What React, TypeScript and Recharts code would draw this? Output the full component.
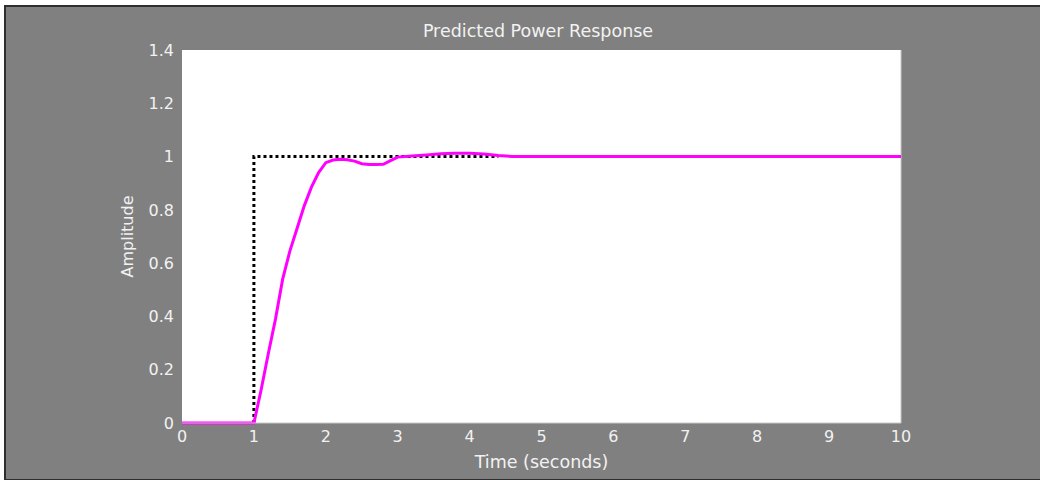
import React from "react";
import { LineChart, Line, XAxis, YAxis, CartesianGrid, ReferenceLine, Label } from "recharts";

const xTicks = [0, 1, 2, 3, 4, 5, 6, 7, 8, 9, 10];
const yTicks = [0, 0.2, 0.4, 0.6, 0.8, 1, 1.2, 1.4];

const stepTime = [1, 1, 4.4];
const stepValue = [0, 1, 1];

const respTime = [0, 1.0, 1.1, 1.2, 1.3, 1.4, 1.5, 1.6, 1.7, 1.8, 1.9, 2.0, 2.1, 2.2, 2.3, 2.4, 2.5, 2.6, 2.7, 2.8, 2.9, 3.0, 3.2, 3.4, 3.6, 3.8, 4.0, 4.2, 4.4, 4.6, 5, 6, 7, 8, 9, 10];
const respValue = [0, 0, 0.124, 0.26, 0.39, 0.54, 0.645, 0.73, 0.815, 0.885, 0.94, 0.977, 0.987, 0.99, 0.988, 0.983, 0.973, 0.97, 0.97, 0.971, 0.985, 0.998, 1.002, 1.006, 1.011, 1.012, 1.012, 1.01, 1.004, 1.0, 1.0, 1.0, 1.0, 1.0, 1.0, 1.0];

const stepData = stepTime.map((t, i) => ({ t, v: stepValue[i] }));
const respData = respTime.map((t, i) => ({ t, v: respValue[i] }));

const FONT = "'DejaVu Sans', Verdana, sans-serif";
const TEXT = "#f2f2f2";

export default function App() {
  return (
    <div
      style={{
        position: "fixed",
        left: 0,
        top: 0,
        width: 1040,
        height: 480,
        fontFamily: FONT,
      }}
    >
      <div
        style={{
          position: "absolute",
          left: 4,
          top: 5,
          width: 1040,
          height: 472,
          background: "#808080",
          borderTop: "2px solid #2e2e2e",
          borderLeft: "2px solid #2e2e2e",
          borderBottom: "2px solid #2e2e2e",
        }}
      />
      <div style={{ position: "absolute", left: 0, top: 0 }}>
        <LineChart
          width={1040}
          height={480}
          margin={{ top: 50, right: 139, left: 0, bottom: 0 }}
        >
          <CartesianGrid fill="#ffffff" horizontal={false} vertical={false} stroke="none" />
          <text x={538} y={37} textAnchor="middle" fill={TEXT} fontSize={17.5} fontFamily={FONT}>
            Predicted Power Response
          </text>
          <XAxis
            type="number"
            dataKey="t"
            domain={[0, 10]}
            ticks={xTicks}
            allowDataOverflow
            height={57}
            tickLine={false}
            axisLine={{ stroke: "#c8c8c8", strokeWidth: 1 }}
            tick={{ fill: TEXT, fontSize: 16, fontFamily: FONT }}
          >
            <Label value="Time (seconds)" position="insideBottom" offset={12} fill={TEXT} fontSize={17.5} fontFamily={FONT} />
          </XAxis>
          <YAxis
            type="number"
            domain={[0, 1.4]}
            ticks={yTicks}
            width={182}
            tickLine={false}
            axisLine={false}
            tick={{ fill: TEXT, fontSize: 16, fontFamily: FONT }}
          >
            <Label value="Amplitude" angle={-90} position="insideRight" offset={55} fill={TEXT} fontSize={16} fontFamily={FONT} style={{ textAnchor: "middle" }} />
          </YAxis>
          <ReferenceLine x={10} stroke="#c8c8c8" strokeWidth={1} />
          <Line
            data={stepData}
            dataKey="v"
            type="linear"
            stroke="#000000"
            strokeWidth={3}
            strokeDasharray="3 3"
            dot={false}
            activeDot={false}
            isAnimationActive={false}
          />
          <Line
            data={respData}
            dataKey="v"
            type="linear"
            stroke="#ff00ff"
            strokeWidth={3}
            dot={false}
            activeDot={false}
            isAnimationActive={false}
          />
        </LineChart>
      </div>
    </div>
  );
}
